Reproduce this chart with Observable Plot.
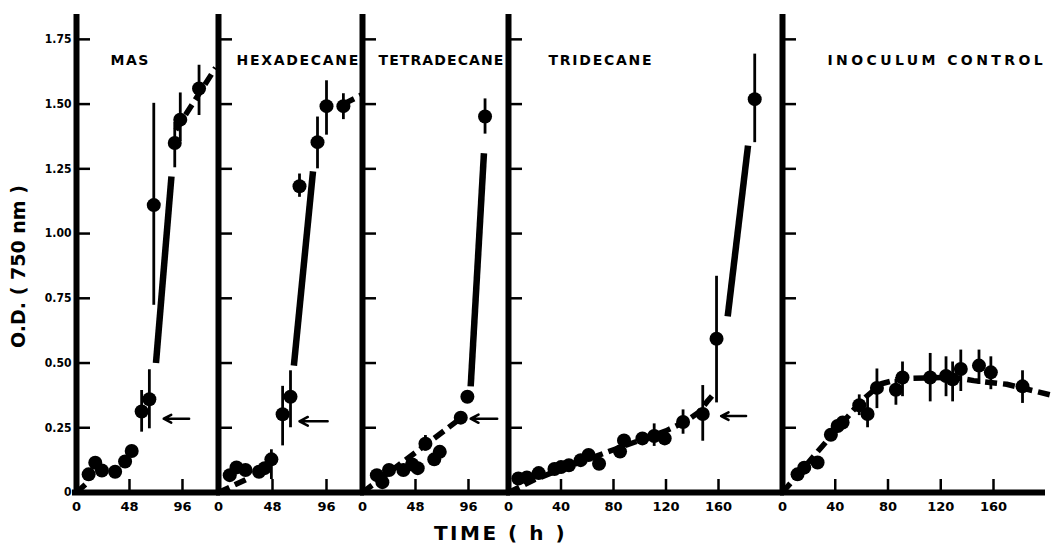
<!DOCTYPE html>
<html><head><meta charset="utf-8">
<script src="https://cdn.jsdelivr.net/npm/d3@7"></script>
<script src="https://cdn.jsdelivr.net/npm/@observablehq/plot@0.6"></script>
<style>
body{margin:0;background:#fff;}
#chart{position:relative;width:1052px;height:544px;overflow:hidden;background:#fff;}
#chart svg{position:absolute;left:0;top:0;}
</style></head><body><div id="chart"></div>
<script>
// ---------- data ----------
const panelNames = ["MAS", "HEXADECANE", "TETRADECANE", "TRIDECANE", "INOCULUM CONTROL"];
const yTicks = [0, 0.25, 0.5, 0.75, 1, 1.25, 1.5, 1.75];
const xTicks48 = [0, 48, 96];
const xTicks40 = [0, 40, 80, 120, 160];
const yLabel = "O.D. ( 750 nm )";
const xLabel = "TIME ( h )";

// MAS
const masTime = [11, 17, 23, 35, 44, 50, 59, 66, 70, 89, 94, 111];
const masOD   = [0.07, 0.115, 0.085, 0.08, 0.12, 0.16, 0.313, 0.36, 1.11, 1.35, 1.44, 1.56];
const masLow  = [null, null, null, null, null, null, 0.233, 0.246, 0.723, 1.254, 1.355, 1.456];
const masHigh = [null, null, null, null, null, null, 0.394, 0.474, 1.503, 1.429, 1.543, 1.65];
const masDashTime = [0, 9, null, 90, 126];
const masDashOD   = [0, 0.035, null, 1.40, 1.64];
const masLogTime = [72, 86];
const masLogOD   = [0.50, 1.22];
const masArrow = [102, 79, 0.285]; // from, to, OD

// HEXADECANE
const hexTime = [10, 16, 24, 36, 41, 47, 57, 64, 72, 88, 96, 111];
const hexOD   = [0.067, 0.097, 0.087, 0.08, 0.094, 0.128, 0.302, 0.37, 1.183, 1.353, 1.492, 1.492];
const hexLow  = [null, null, null, null, null, 0.05, 0.18, 0.25, 1.14, 1.25, 1.38, 1.44];
const hexHigh = [null, null, null, null, null, 0.165, 0.41, 0.47, 1.23, 1.45, 1.59, 1.54];
const hexDashTime = [0, 27, null, 111, 127];
const hexDashOD   = [0, 0.055, null, 1.50, 1.535];
const hexLogTime = [67, 84];
const hexLogOD   = [0.49, 1.24];
const hexArrow = [97, 72, 0.275];

// TETRADECANE
const tetTime = [13, 18, 24, 37, 45, 50, 57, 65, 70, 89, 95, 111];
const tetOD   = [0.067, 0.04, 0.087, 0.087, 0.108, 0.094, 0.188, 0.128, 0.157, 0.289, 0.37, 1.452];
const tetLow  = [null, null, null, null, null, null, 0.16, null, null, null, null, 1.384];
const tetHigh = [null, null, null, null, null, null, 0.22, null, null, null, null, 1.52];
const tetDashTime = [0, 90];
const tetDashOD   = [0, 0.29];
const tetLogTime = [98, 110];
const tetLogOD   = [0.41, 1.31];
const tetArrow = [122, 98, 0.285];

// TRIDECANE
const triTime = [7.5, 14, 23, 35, 40, 46, 55, 61, 69, 85, 88, 102, 111, 119, 133, 148, 158.5, 187.6];
const triOD   = [0.054, 0.058, 0.075, 0.091, 0.098, 0.105, 0.125, 0.145, 0.111, 0.158, 0.201, 0.209, 0.218, 0.209, 0.272, 0.303, 0.594, 1.519];
const triLow  = [null, null, null, null, null, null, null, null, null, null, null, null, 0.178, null, 0.225, 0.198, 0.346, 1.351];
const triHigh = [null, null, null, null, null, null, null, null, null, null, null, null, 0.265, null, 0.319, 0.413, 0.835, 1.693];
const triDashTime = [0, 20, 40, 80, 120, 135, 145, 152, 158];
const triDashOD   = [0, 0.05, 0.09, 0.165, 0.238, 0.275, 0.31, 0.355, 0.39];
const triLogTime = [167, 182.5];
const triLogOD   = [0.68, 1.34];
const triArrow = [181, 162, 0.295];

// INOCULUM CONTROL
const inoTime = [11.4, 16.5, 26.6, 36.7, 41.8, 45.6, 58.2, 64.5, 71.6, 86, 91, 112, 124, 129, 135.2, 149, 158, 182];
const inoOD   = [0.07, 0.096, 0.116, 0.223, 0.257, 0.27, 0.337, 0.303, 0.404, 0.397, 0.444, 0.444, 0.45, 0.437, 0.477, 0.49, 0.464, 0.41];
const inoLow  = [null, null, null, null, null, null, 0.297, 0.25, 0.324, 0.337, 0.37, 0.35, 0.37, 0.35, 0.39, 0.417, 0.397, 0.344];
const inoHigh = [null, null, null, null, null, null, 0.377, 0.37, 0.477, 0.437, 0.504, 0.537, 0.524, 0.504, 0.55, 0.55, 0.524, 0.47];
const inoDashTime = [0, 60, 75, 90, 130, 145, 170, 203];
const inoDashOD   = [0, 0.355, 0.42, 0.44, 0.445, 0.432, 0.418, 0.377];
const inoLogTime = [];
const inoLogOD   = [];
const inoArrow = null;

// ---------- layout (positions / styles) ----------
const W = 1052, H = 544, TOP = 14, BASE = 492, YMAX = 1.846;
const layout = [
  {x0: 76,  w: 142, pxh: 1.104,  ticks: xTicks48, titleDx: 34, ls: 1.5},
  {x0: 218, w: 144, pxh: 1.125,  ticks: xTicks48, titleDx: 18, ls: 1.7},
  {x0: 362, w: 146, pxh: 1.104,  ticks: xTicks48, titleDx: 16, ls: 1.1},
  {x0: 508, w: 274, pxh: 1.3125, ticks: xTicks40, titleDx: 40, ls: 1.75},
  {x0: 782, w: 261, pxh: 1.31875, ticks: xTicks40, titleDx: 45, ls: 3.4}
];
const series = [
  [masTime, masOD, masLow, masHigh, masDashTime, masDashOD, masLogTime, masLogOD, masArrow],
  [hexTime, hexOD, hexLow, hexHigh, hexDashTime, hexDashOD, hexLogTime, hexLogOD, hexArrow],
  [tetTime, tetOD, tetLow, tetHigh, tetDashTime, tetDashOD, tetLogTime, tetLogOD, tetArrow],
  [triTime, triOD, triLow, triHigh, triDashTime, triDashOD, triLogTime, triLogOD, triArrow],
  [inoTime, inoOD, inoLow, inoHigh, inoDashTime, inoDashOD, inoLogTime, inoLogOD, inoArrow]
];

const FONT = "DejaVu Sans";
const chart = document.getElementById("chart");

series.forEach((s, i) => {
  const L = layout[i];
  const [t, od, lo, hi, dT, dOD, gT, gOD, arr] = s;
  const pts = t.map((v, j) => ({t: v, od: od[j], lo: lo[j], hi: hi[j]}));
  const errs = pts.filter(p => p.lo != null);
  const dash = dT.map((v, j) => ({t: v, od: dOD[j]}));
  const logp = gT.map((v, j) => ({t: v, od: gOD[j]}));
  const arrows = arr ? [{from: arr[0], to: arr[1], od: arr[2]}] : [];
  const frameH = BASE - TOP;
  const marks = [
    Plot.ruleY([0], {strokeWidth: 6, insetLeft: i === 0 ? -4 : -2, insetRight: -2}),
    Plot.ruleX([0], {strokeWidth: 6}),
    Plot.tickY(yTicks.filter(v => v > 0), {y: v => v, insetRight: L.w - 14, strokeWidth: 2.5}),
    Plot.tickX(L.ticks.filter(v => v > 0), {x: v => v, insetTop: frameH - 13, strokeWidth: 2.5}),
    Plot.axisX(L.ticks, {tickSize: 0, tickPadding: 9, fontSize: 13, fontWeight: "bold", label: null, tickFormat: v => String(v)}),
    Plot.line(dash, {x: "t", y: "od", strokeWidth: 5.5, strokeDasharray: "12,6", strokeLinecap: "butt"}),
    Plot.line(logp, {x: "t", y: "od", strokeWidth: 6.5, strokeLinecap: "butt"}),
    Plot.ruleX(errs, {x: "t", y1: "lo", y2: "hi", strokeWidth: 2.8}),
    Plot.dot(pts, {x: "t", y: "od", r: 7, fill: "black", stroke: null}),
    Plot.arrow(arrows, {x1: "from", x2: "to", y1: "od", y2: "od", strokeWidth: 2.5, headLength: 8, headAngle: 55}),
    Plot.text([panelNames[i]], {frameAnchor: "top-left", textAnchor: "start", lineAnchor: "middle", dx: L.titleDx, dy: 46, fontSize: 14, fontWeight: "bold"})
  ];
  if (i === 0) {
    marks.push(Plot.axisY(yTicks, {tickSize: 0, tickPadding: 5, fontSize: 12, fontWeight: "bold", fontFamily: "DejaVu Sans Condensed", label: null,
      tickFormat: v => v === 0 ? "0" : v.toFixed(2)}));
    marks.push(Plot.text([yLabel], {frameAnchor: "left", textAnchor: "middle", lineAnchor: "middle", rotate: -90, dx: -58, dy: 13, fontSize: 19, fontWeight: "bold"}));
  }
  if (i === 2) {
    marks.push(Plot.text([xLabel], {frameAnchor: "bottom", textAnchor: "middle", lineAnchor: "middle", dx: 65, dy: 41, fontSize: 20, fontWeight: "bold"}));
  }
  const svg = Plot.plot({
    width: W, height: H,
    marginLeft: L.x0, marginRight: W - L.x0 - L.w, marginTop: TOP, marginBottom: H - BASE,
    x: {domain: [0, L.w / L.pxh], label: null},
    y: {domain: [0, YMAX], label: null, axis: i === 0 ? undefined : null},
    style: {background: "transparent", fontFamily: FONT, color: "black", overflow: "visible"},
    marks
  });
  svg.querySelectorAll("text").forEach(e => {
    if (e.textContent === panelNames[i]) e.style.letterSpacing = L.ls + "px";
    if (e.textContent === xLabel) e.style.letterSpacing = "2.5px";
  });
  chart.appendChild(svg);
});
</script></body></html>
